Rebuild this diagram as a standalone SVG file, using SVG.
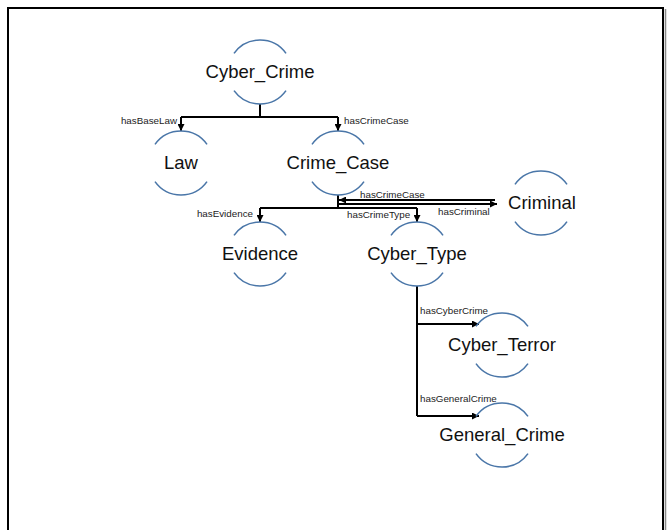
<svg xmlns="http://www.w3.org/2000/svg" width="670" height="530" viewBox="0 0 670 530">
<defs>
<style>
.arc{fill:none;stroke:#4a76a8;stroke-width:1.6}
.nt{font-family:"Liberation Sans",Arial,sans-serif;font-size:18.5px;fill:#111;text-anchor:middle}
.lb{font-family:"Liberation Sans",Arial,sans-serif;font-size:9.8px;fill:#222}
.ln{fill:none;stroke:#000;stroke-width:2}
</style>
<marker id="ah" viewBox="0 0 10 10" refX="10" refY="5" markerWidth="7" markerHeight="7" markerUnits="userSpaceOnUse" orient="auto">
<path d="M0 0 L10 5 L0 10 z" fill="#000"/>
</marker>
<path id="node" class="arc" d="M-26 -18.6 A32 32 0 0 1 26 -18.6 M-26 18.6 A32 32 0 0 0 26 18.6"/>
</defs>
<rect x="0" y="0" width="670" height="530" fill="#fff"/>
<path d="M8 540 V8 H663 V540" fill="none" stroke="#000" stroke-width="2"/>
<path d="M665.5 9 V540" fill="none" stroke="#888" stroke-width="1.5"/>

<g id="connectors">
<path class="ln" d="M260 104 V117 M181 117 H338"/>
<path class="ln" d="M181 117 V131" marker-end="url(#ah)"/>
<path class="ln" d="M338 117 V131" marker-end="url(#ah)"/>
<path class="ln" d="M338 195 V208 M260 208 H417"/>
<path class="ln" d="M260 208 V222" marker-end="url(#ah)"/>
<path class="ln" d="M417 208 V222" marker-end="url(#ah)"/>
<path class="ln" d="M495 200 H339" marker-end="url(#ah)"/>
<path class="ln" d="M338 204 H497" marker-end="url(#ah)"/>
<path class="ln" d="M417 286 V416"/>
<path class="ln" d="M417 324 H479" marker-end="url(#ah)"/>
<path class="ln" d="M417 416 H479" marker-end="url(#ah)"/>
<text class="lb" x="177" y="124" text-anchor="end">hasBaseLaw</text>
<text class="lb" x="344" y="124">hasCrimeCase</text>
<text class="lb" x="360" y="198">hasCrimeCase</text>
<text class="lb" x="438" y="215">hasCriminal</text>
<text class="lb" x="253" y="217" text-anchor="end">hasEvidence</text>
<text class="lb" x="347" y="218">hasCrimeType</text>
<text class="lb" x="420" y="314">hasCyberCrime</text>
<text class="lb" x="420" y="402">hasGeneralCrime</text>
</g>

<g id="n-cyber-crime"><use href="#node" x="260" y="72"/><text class="nt" x="260" y="78">Cyber_Crime</text></g>
<g id="n-law"><use href="#node" x="181" y="163"/><text class="nt" x="181" y="169">Law</text></g>
<g id="n-crime-case"><use href="#node" x="338" y="163"/><text class="nt" x="338" y="169">Crime_Case</text></g>
<g id="n-criminal"><use href="#node" x="541" y="203"/><text class="nt" x="542" y="209">Criminal</text></g>
<g id="n-evidence"><use href="#node" x="260" y="254"/><text class="nt" x="260" y="260">Evidence</text></g>
<g id="n-cyber-type"><use href="#node" x="417" y="254"/><text class="nt" x="417" y="260">Cyber_Type</text></g>
<g id="n-cyber-terror"><use href="#node" x="502" y="345"/><text class="nt" x="502" y="351">Cyber_Terror</text></g>
<g id="n-general-crime"><use href="#node" x="502" y="435"/><text class="nt" x="502" y="441">General_Crime</text></g>
</svg>
